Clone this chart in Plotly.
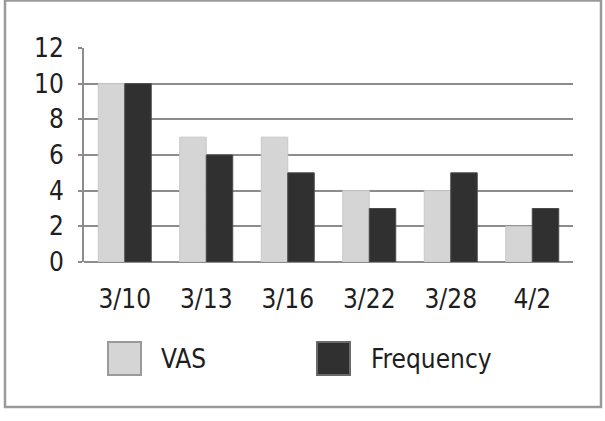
import plotly.graph_objects as go

categories = ["3/10", "3/13", "3/16", "3/22", "3/28", "4/2"]
vas = [10, 7, 7, 4, 4, 2]
frequency = [10, 6, 5, 3, 5, 3]
series_names = ["VAS", "Frequency"]
y_ticks = [0, 2, 4, 6, 8, 10, 12]

FONT = "DejaVu Sans Condensed, DejaVu Sans, sans-serif"
GRID = "#8c8c8c"
VAS_C = "#d5d5d5"
FREQ_C = "#303030"
TXT = "#1e1e1e"
FS = 26
W, H = 605, 421
L, R, T, B = 84, 32, 48, 159
pw, ph = W - L - R, H - T - B

def px(x):
    return (x - L) / pw

def py(y):
    return (H - B - y) / ph

fig = go.Figure()
fig.add_trace(go.Bar(x=categories, y=vas, name=series_names[0],
                     marker=dict(color=VAS_C, line=dict(color="#c8c8c8", width=1))))
fig.add_trace(go.Bar(x=categories, y=frequency, name=series_names[1],
                     marker=dict(color=FREQ_C, line=dict(color="#4a4a4a", width=1))))

fig.update_layout(
    width=W, height=H,
    margin=dict(l=L, r=R, t=T, b=B),
    paper_bgcolor="white", plot_bgcolor="white",
    barmode="group", bargap=0.35, bargroupgap=0,
    showlegend=False,
    font=dict(family=FONT, size=FS, color=TXT),
)
fig.update_yaxes(range=[0, 12], tickvals=y_ticks, showgrid=True, gridcolor=GRID, gridwidth=2,
                 showline=True, linecolor=GRID, linewidth=2, ticks="outside", ticklen=4,
                 tickcolor=GRID, tickwidth=2, zeroline=True, zerolinecolor=GRID, zerolinewidth=2,
                 ticklabelstandoff=9, fixedrange=True)
fig.update_xaxes(showline=False, ticks="", ticklabelstandoff=19, fixedrange=True)

# outer frame
fig.add_shape(type="rect", xref="paper", yref="paper",
              x0=px(5), x1=px(601), y0=py(407), y1=py(0.5),
              line=dict(color="#9a9a9a", width=2.5), fillcolor="rgba(0,0,0,0)", layer="below")

# custom legend (large swatches)
legend_items = [(series_names[0], VAS_C, "#9a9a9a", 108, 159),
                (series_names[1], FREQ_C, "#6a6a6a", 317, 369)]
for name, fill, edge, bx, tx in legend_items:
    fig.add_shape(type="rect", xref="paper", yref="paper",
                  x0=px(bx), x1=px(bx + 33), y0=py(375), y1=py(342),
                  line=dict(color=edge, width=2), fillcolor=fill)
    fig.add_annotation(xref="paper", yref="paper", x=px(tx), y=py(359), text=name,
                       showarrow=False, xanchor="left", yanchor="middle",
                       font=dict(family=FONT, size=FS, color=TXT))

fig.write_html("out.html")
